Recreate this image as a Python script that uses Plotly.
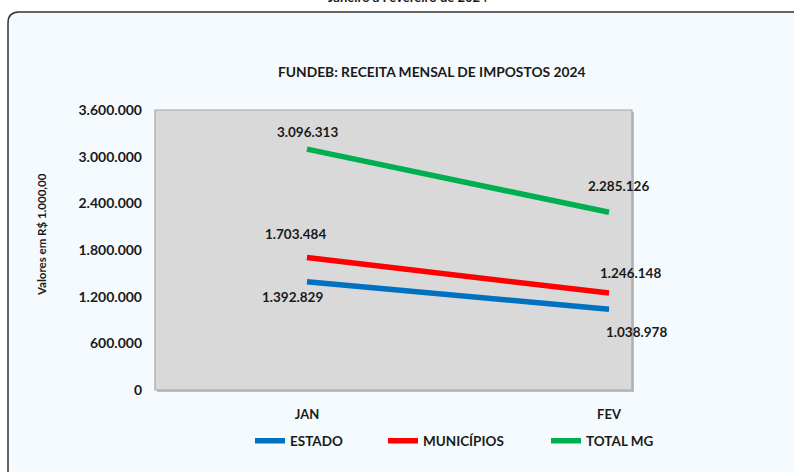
import plotly.graph_objects as go

months = ["JAN", "FEV"]
estado = [1392829, 1038978]
municipios = [1703484, 1246148]
total_mg = [3096313, 2285126]
series_names = ["ESTADO", "MUNICÍPIOS", "TOTAL MG"]
series_colors = ["#0070C0", "#FF0000", "#00B050"]
y_ticks = [0, 600000, 1200000, 1800000, 2400000, 3000000, 3600000]

def br(v):
    return f"{v:,.0f}".replace(",", ".")

W, H = 794, 472
L, R, T, B = 155, 632, 110, 390
FONT = "Lato, Carlito, Calibri, sans-serif"

def px(x):
    return (x - L) / (R - L)

def py(y):
    return (B - y) / (B - T)

legend_ids = ["legend", "legend2", "legend3"]
legend_x = [250, 383, 546]

fig = go.Figure()
all_series = [estado, municipios, total_mg]
for name, vals, col, lid in zip(series_names, all_series, series_colors, legend_ids):
    fig.add_trace(go.Scatter(
        x=[0, 1], y=vals, mode="lines", name=name,
        line=dict(color=col, width=5.5),
        hoverinfo="skip", legend=lid,
    ))

# data labels offsets (pixels)
label_offsets = {
    "ESTADO": [(-14, -15), (27, -23)],
    "MUNICÍPIOS": [(-11, 24), (21, 20)],
    "TOTAL MG": [(1, 17), (9, 26)],
}
annotations = []
for name, vals in zip(series_names, all_series):
    for i, v in enumerate(vals):
        dx, dy = label_offsets[name][i]
        annotations.append(dict(
            x=i, y=v, xref="x", yref="y", text=br(v), showarrow=False,
            xshift=dx, yshift=dy, xanchor="center", yanchor="middle",
            font=dict(family=FONT, size=13.5, color="#1a1a1a", weight="bold"),
        ))

annotations.append(dict(
    x=px(431), y=py(71), xref="paper", yref="paper", xanchor="center", yanchor="middle",
    text="FUNDEB: RECEITA MENSAL DE IMPOSTOS 2024", showarrow=False,
    font=dict(family=FONT, size=13.8, color="#1a1a1a", weight="bold"),
))
annotations.append(dict(
    x=px(41), y=py(235), xref="paper", yref="paper", xanchor="center", yanchor="middle",
    text="Valores em R$ 1.000,00", showarrow=False, textangle=-90,
    font=dict(family=FONT, size=11.5, color="#1a1a1a", weight="bold"),
))
annotations.append(dict(
    x=px(408), y=py(7), xref="paper", yref="paper", xanchor="center", yanchor="bottom",
    text="Janeiro a Fevereiro de 2024", showarrow=False,
    font=dict(family=FONT, size=13, color="#1a1a1a", weight="bold"),
))

# outer rounded frame
r = 11
x0, y0 = 8, 12
x1, y1 = 805, 485
path = (f"M {px(x0)},{py(y1)} L {px(x0)},{py(y0 + r)} "
        f"Q {px(x0)},{py(y0)} {px(x0 + r)},{py(y0)} "
        f"L {px(x1)},{py(y0)} L {px(x1)},{py(y1)} Z")
shapes = [
    dict(type="path", path=path, xref="paper", yref="paper",
         fillcolor="#F5FAFF", line=dict(color="#333333", width=1.5), layer="below"),
    dict(type="rect", x0=px(L + 2), y0=py(B + 2), x1=px(R + 2), y1=py(T + 2),
         xref="paper", yref="paper", fillcolor="#BFBFBF", line=dict(width=0), layer="below"),
    dict(type="rect", x0=0, y0=0, x1=1, y1=1, xref="paper", yref="paper",
         fillcolor="#D9D9D9", line=dict(color="#A6A6A6", width=1.2), layer="below"),
]

legend_common = dict(
    orientation="h", xref="container", yref="container",
    xanchor="left", yanchor="middle",
    font=dict(family=FONT, size=13.5, color="#1a1a1a", weight="bold"),
    bgcolor="rgba(0,0,0,0)", itemwidth=30, tracegroupgap=0,
)
legends = {}
for lid, lx in zip(legend_ids, legend_x):
    legends[lid] = dict(legend_common, x=lx / W, y=1 - 441 / H)

fig.update_layout(
    width=W, height=H,
    margin=dict(l=L, r=W - R, t=T, b=H - B, pad=0, autoexpand=False),
    paper_bgcolor="white",
    plot_bgcolor="rgba(0,0,0,0)",
    showlegend=True,
    xaxis=dict(
        range=[-0.503, 1.076], tickvals=[0, 1], ticktext=months,
        showgrid=False, zeroline=False, showline=False, ticks="",
        tickfont=dict(family=FONT, size=13, color="#1a1a1a", weight="bold"),
        ticklabelstandoff=15,
    ),
    yaxis=dict(
        range=[0, 3600000], tickvals=y_ticks, ticktext=[br(v) for v in y_ticks],
        showgrid=False, zeroline=False, showline=False, ticks="",
        tickfont=dict(family=FONT, size=14, color="#1a1a1a", weight="bold"),
        ticklabelstandoff=12,
    ),
    annotations=annotations,
    shapes=shapes,
    **legends,
)

fig.write_html(
    "out.html",
    config={"displayModeBar": False},
    post_script="document.body.style.margin='0';document.body.style.overflow='hidden';",
)
